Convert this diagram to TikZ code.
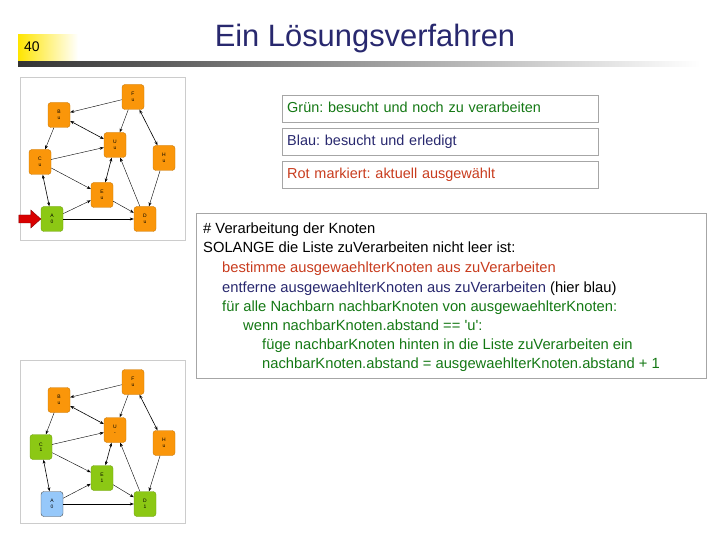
\documentclass[tikz,border=0pt]{standalone}
\usepackage{fontspec}
\setmainfont{Liberation Sans}
\frenchspacing
\usetikzlibrary{arrows.meta}
\definecolor{ttl}{RGB}{40,40,110}
\definecolor{org}{RGB}{250,150,10}
\definecolor{grn}{RGB}{140,200,20}
\definecolor{blu}{RGB}{150,200,250}
\definecolor{cgreen}{RGB}{20,120,20}
\definecolor{cred}{RGB}{200,60,30}
\definecolor{cblue}{RGB}{40,40,110}
\tikzset{
 gnode/.style={draw=#1!80!black,fill=#1,rounded corners=3bp,minimum width=22bp,minimum height=25bp,inner sep=0pt,font=\fontsize{5}{5.5}\selectfont,align=center},
 ed/.style={-{Stealth[length=4bp,width=3bp]},thin},
 bd/.style={{Stealth[length=4bp,width=3bp]}-{Stealth[length=4bp,width=3bp]},semithick},
 lbox/.style={draw=gray!70,minimum width=316bp,minimum height=27bp,anchor=west,inner xsep=5bp,text width=306bp,text height=11bp,text depth=3bp,font=\fontsize{14.5}{16}\selectfont},
 cl/.style={anchor=base west,font=\fontsize{14.8}{16}\selectfont,inner sep=0pt}
}
\begin{document}
\begin{tikzpicture}[x=1bp,y=-1bp]
\useasboundingbox (0,0) rectangle (720,540);
% header
\shade[left color=yellow!80!orange,right color=white] (18,35) rectangle (78,62);
\node[anchor=west,font=\fontsize{14}{14}\selectfont,inner sep=0] (num) at (24,47) {40};
\shade[left color=black!80,right color=white] (18,62) rectangle (700,67);
\node[font=\fontsize{31}{31}\selectfont,text=ttl] (title) at (365,39) {Ein Lösungsverfahren};
% legend
\node[lbox,text=cgreen] (l1) at (282,108.5) {Grün: besucht und noch zu verarbeiten};
\node[lbox,text=cblue] (l2) at (282,141.5) {Blau: besucht und erledigt};
\node[lbox,text=cred] (l3) at (282,174.5) {Rot markiert: aktuell ausgewählt};
% code box
\draw[gray!70] (196,213) rectangle (706,378);
\node[cl] (c1) at (203,234) {\# Verarbeitung der Knoten};
\node[cl] (c2) at (203,253) {SOLANGE die Liste zuVerarbeiten nicht leer ist:};
\node[cl,text=cred] (c3) at (222,273) {bestimme ausgewaehlterKnoten aus zuVerarbeiten};
\node[cl] (c4) at (222,292) {\textcolor{cblue}{entferne ausgewaehlterKnoten aus zuVerarbeiten} (hier blau)};
\node[cl,text=cgreen] (c5) at (222,311) {für alle Nachbarn nachbarKnoten von ausgewaehlterKnoten:};
\node[cl,text=cgreen] (c6) at (243,330) {wenn nachbarKnoten.abstand == \textquotesingle u\textquotesingle :};
\node[cl,text=cgreen] (c7) at (262,349) {füge nachbarKnoten hinten in die Liste zuVerarbeiten ein};
\node[cl,text=cgreen] (c8) at (262,368) {nachbarKnoten.abstand = ausgewaehlterKnoten.abstand + 1};
% top graph
\draw[gray!40] (20,77) rectangle (185,240);
\node[gnode=org] (F) at (133,97) {F\\u};
\node[gnode=org] (B) at (59,115) {B\\u};
\node[gnode=org] (U) at (115,145) {U\\u};
\node[gnode=org] (H) at (164,158) {H\\u};
\node[gnode=org] (C) at (40,162) {C\\u};
\node[gnode=org] (E) at (102,195) {E\\u};
\node[gnode=grn] (A) at (52,219) {A\\0};
\node[gnode=org] (D) at (145,219) {D\\u};
\foreach \a/\b in {F/B,F/U,B/C,C/U,C/E,A/E,A/D,E/D,D/U,H/D} \draw[ed] (\a) -- (\b);
\foreach \a/\b in {F/H,B/U,C/A,E/U} \draw[bd] (\a) -- (\b);
\coordinate (ra) at (A.west);
\fill[red!85!black,draw=red!50!black] (ra) -- ++(-10,-9) -- ++(0,5) -- ++(-12,0) -- ++(0,8) -- ++(12,0) -- ++(0,5) -- cycle;
% bottom graph
\draw[gray!40] (20,360) rectangle (185,523);
\node[gnode=org] (F2) at (133,382) {F\\u};
\node[gnode=org] (B2) at (59,400) {B\\u};
\node[gnode=org] (U2) at (115,430) {U\\-};
\node[gnode=org] (H2) at (164,443) {H\\u};
\node[gnode=grn] (C2) at (41,447) {C\\1};
\node[gnode=grn] (E2) at (102,478) {E\\1};
\node[gnode=blu,draw=black!70] (A2) at (52,504) {A\\0};
\node[gnode=grn] (D2) at (145,504) {D\\1};
\foreach \a/\b in {F2/B2,F2/U2,B2/C2,C2/U2,C2/E2,A2/E2,A2/D2,E2/D2,D2/U2,H2/D2} \draw[ed] (\a) -- (\b);
\foreach \a/\b in {F2/H2,B2/U2,C2/A2,E2/U2} \draw[bd] (\a) -- (\b);
\end{tikzpicture}
\end{document}
